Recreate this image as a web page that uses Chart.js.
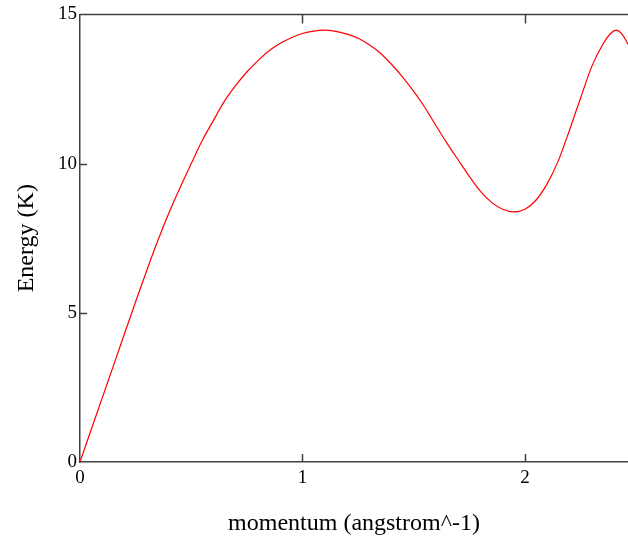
<!DOCTYPE html>
<html>
<head>
<meta charset="utf-8">
<script src="https://cdn.jsdelivr.net/npm/chart.js@4/dist/chart.umd.min.js"></script>
<style>
  html, body { margin: 0; padding: 0; background: #fff; }
  #chart { display: block; }
</style>
</head>
<body>
<canvas id="chart" width="628" height="539"></canvas>
<script>
// valores
const momentum = [0, 0.05, 0.1, 0.15, 0.2, 0.25, 0.3, 0.35, 0.4, 0.45, 0.5,
    0.55, 0.6, 0.65, 0.7, 0.75, 0.8, 0.85, 0.9, 0.95, 1.0,
    1.05, 1.1, 1.15, 1.2, 1.25, 1.3, 1.35, 1.4, 1.45, 1.5,
    1.55, 1.6, 1.65, 1.7, 1.75, 1.8, 1.85, 1.9, 1.95, 2.0,
    2.05, 2.1, 2.15, 2.2, 2.25, 2.3, 2.35, 2.385, 2.41, 2.44, 2.463];
const energy = [0, 1.08, 2.15, 3.22, 4.3, 5.37, 6.42, 7.42, 8.35, 9.2, 10.0,
    10.78, 11.45, 12.1, 12.62, 13.07, 13.45, 13.78, 14.03, 14.22, 14.36,
    14.44, 14.47, 14.43, 14.34, 14.2, 13.98, 13.7, 13.33, 12.9, 12.42,
    11.88, 11.27, 10.68, 10.12, 9.57, 9.07, 8.7, 8.47, 8.38, 8.47,
    8.78, 9.33, 10.1, 11.12, 12.2, 13.25, 14.0, 14.36, 14.47, 14.3, 14.0];
const xTicks = [0, 1, 2];
const yTicks = [0, 5, 10, 15];

const axisColor = '#404040';
const serif = "'Liberation Serif', 'Times New Roman', serif";

// ticks para dentro e linha de cima (estilo Mathcad)
const innerTicks = {
    id: 'innerTicks',
    afterDraw(chart) {
        const ctx = chart.ctx;
        const area = chart.chartArea;
        const x = chart.scales.x;
        const y = chart.scales.y;
        ctx.save();
        ctx.strokeStyle = axisColor;
        ctx.lineWidth = 1.5;
        ctx.beginPath();
        ctx.moveTo(area.left, area.top);
        ctx.lineTo(area.right, area.top);
        xTicks.forEach(v => {
            if (v === 0) return;
            const px = Math.round(x.getPixelForValue(v)) + 0.5;
            ctx.moveTo(px, area.bottom);
            ctx.lineTo(px, area.bottom - 8);
            ctx.moveTo(px, area.top);
            ctx.lineTo(px, area.top + 9);
        });
        yTicks.forEach(v => {
            if (v === 0 || v === 15) return;
            const py = Math.round(y.getPixelForValue(v)) + 0.5;
            ctx.moveTo(area.left, py);
            ctx.lineTo(area.left + 7, py);
        });
        ctx.stroke();
        ctx.restore();
    }
};

const ctx = document.getElementById('chart').getContext('2d');
new Chart(ctx, {
    type: 'line',
    data: {
        datasets: [{
            data: momentum.map((m, i) => ({ x: m, y: energy[i] })),
            borderColor: '#ff0000',
            borderWidth: 1.2,
            pointRadius: 0,
            fill: false,
            cubicInterpolationMode: 'monotone'
        }]
    },
    options: {
        responsive: false,
        animation: false,
        layout: { padding: { top: 11, right: 0, left: 0, bottom: 0 } },
        plugins: {
            legend: { display: false },
            tooltip: { enabled: false }
        },
        scales: {
            x: {
                type: 'linear',
                min: 0,
                max: 2.463,
                afterBuildTicks: s => { s.ticks = xTicks.map(v => ({ value: v })); },
                afterFit: s => { s.height = 77; },
                grid: { display: false, drawTicks: false },
                border: { display: true, color: axisColor, width: 1.5 },
                ticks: { color: '#000', font: { family: serif, size: 19 }, padding: 5, maxRotation: 0 },
                title: {
                    display: true,
                    text: 'momentum (angstrom^-1)',
                    color: '#000',
                    font: { family: serif, size: 24 },
                    padding: { top: 0, bottom: 1 }
                }
            },
            y: {
                min: 0,
                max: 15,
                afterBuildTicks: s => { s.ticks = yTicks.map(v => ({ value: v })); },
                afterFit: s => { s.width = 80; },
                grid: { display: false, drawTicks: false },
                border: { display: true, color: axisColor, width: 1.5 },
                ticks: { color: '#000', font: { family: serif, size: 19 }, padding: 3 },
                title: {
                    display: true,
                    text: 'Energy (K)',
                    color: '#000',
                    font: { family: serif, size: 24 },
                    padding: { top: 12, bottom: 0 }
                }
            }
        }
    },
    plugins: [innerTicks]
});
</script>
</body>
</html>
